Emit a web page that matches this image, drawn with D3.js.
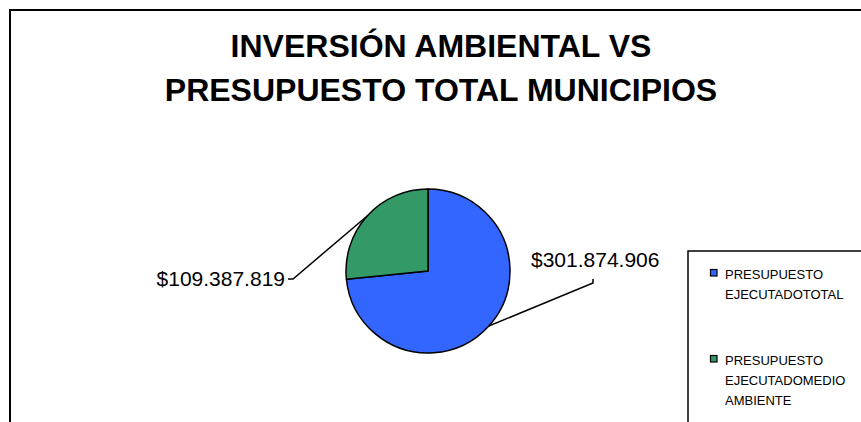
<!DOCTYPE html>
<html>
<head>
<meta charset="utf-8">
<script src="https://cdn.jsdelivr.net/npm/d3@7"></script>
<style>
  body { margin: 0; background: #fff; }
  svg text { font-family: "Liberation Sans", Arial, sans-serif; }
</style>
</head>
<body>
<div id="chart"></div>
<script>
// datos del grafico
var categorias = ["PRESUPUESTO EJECUTADOTOTAL", "PRESUPUESTO EJECUTADOMEDIO AMBIENTE"];
var valores = [301874906, 109387819];
var etiquetas = ["$301.874.906", "$109.387.819"];
var lineasLeyenda = [["PRESUPUESTO", "EJECUTADOTOTAL"], ["PRESUPUESTO", "EJECUTADOMEDIO", "AMBIENTE"]];
var colores = ["#3366FF", "#339966"];
var titulo = ["INVERSIÓN AMBIENTAL VS", "PRESUPUESTO TOTAL MUNICIPIOS"];

var width = 861, height = 422;
var cx = 428, cy = 271, radius = 82;

var svg = d3.select("#chart").append("svg")
    .attr("width", width)
    .attr("height", height);

// marco del area del grafico
svg.append("path")
    .attr("d", "M10," + (height + 5) + "L10,10L" + (width + 5) + ",10")
    .attr("fill", "none")
    .attr("stroke", "#000")
    .attr("stroke-width", 2);

// titulo
svg.append("g").selectAll("text")
    .data(titulo)
    .enter().append("text")
    .attr("x", 441)
    .attr("y", function (d, i) { return 57 + i * 44; })
    .attr("text-anchor", "middle")
    .style("font-size", "32px")
    .style("font-weight", "bold")
    .text(function (d) { return d; });

// torta
var pie = d3.pie().sort(null).value(function (d) { return d; });
var arcs = pie(valores);
var arc = d3.arc().innerRadius(0).outerRadius(radius);
var edge = d3.arc().innerRadius(radius).outerRadius(radius);

var g = svg.append("g").attr("transform", "translate(" + cx + "," + cy + ")");
g.selectAll("path")
    .data(arcs)
    .enter().append("path")
    .attr("d", arc)
    .attr("fill", function (d, i) { return colores[i]; })
    .attr("stroke", "#000")
    .attr("stroke-width", 1.5)
    .attr("stroke-linejoin", "round");

// lineas guia y etiquetas de valor (desplazamiento del punto de la etiqueta respecto al centro)
var anclas = [
    { punto: [165, 12], tick: [165, 8], texto: [103, -4], anchor: "start" },
    { punto: [-135, 8], tick: [-140, 8], texto: [-143, 15], anchor: "end" }
];
arcs.forEach(function (d, i) {
    var c = edge.centroid(d);
    var a = anclas[i];
    g.append("path")
        .attr("d", "M" + c[0] + "," + c[1] + "L" + a.punto[0] + "," + a.punto[1] + "L" + a.tick[0] + "," + a.tick[1])
        .attr("fill", "none")
        .attr("stroke", "#000")
        .attr("stroke-width", 1.5);
    g.append("text")
        .attr("x", a.texto[0])
        .attr("y", a.texto[1])
        .attr("text-anchor", a.anchor)
        .style("font-size", "21px")
        .style("fill", "#000")
        .text(etiquetas[i]);
});

// leyenda
var leyenda = svg.append("g");
leyenda.append("rect")
    .attr("x", 688)
    .attr("y", 251)
    .attr("width", 200)
    .attr("height", 200)
    .attr("fill", "#fff")
    .attr("stroke", "#000")
    .attr("stroke-width", 1.5);

var filas = [269, 355];
categorias.forEach(function (c, i) {
    leyenda.append("rect")
        .attr("x", 710.5)
        .attr("y", filas[i] + 0.5)
        .attr("width", 6.5)
        .attr("height", 6.5)
        .attr("fill", colores[i])
        .attr("stroke", "#000")
        .attr("stroke-width", 1.2);
    leyenda.selectAll(null)
        .data(lineasLeyenda[i])
        .enter().append("text")
        .attr("x", 725)
        .attr("y", function (d, j) { return filas[i] + 10 + j * 20; })
        .style("font-size", "13px")
        .text(function (d) { return d; });
});
</script>
</body>
</html>
